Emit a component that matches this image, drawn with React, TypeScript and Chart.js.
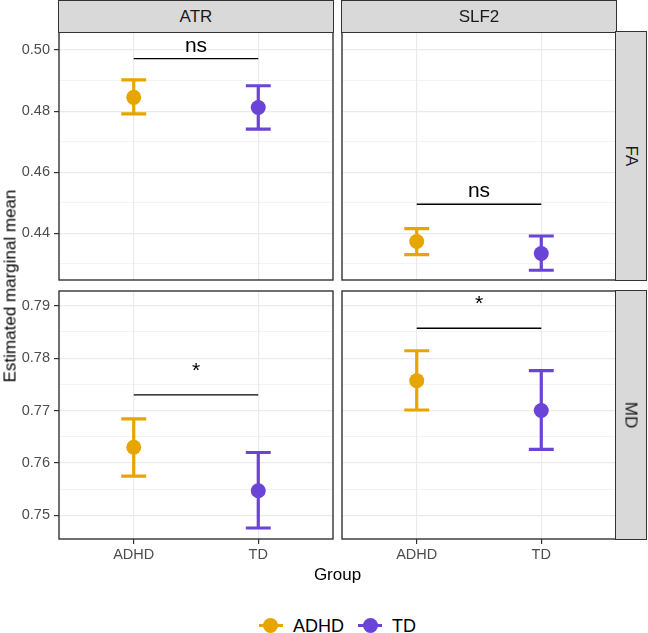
import React, { useEffect, useRef } from "react";
import { Chart, registerables } from "chart.js";

Chart.register(...registerables);

// Categories
const groups = ["ADHD", "TD"];
const tracts = ["ATR", "SLF2"];
const measures = ["FA", "MD"];
const groupColors = ["#E6A500", "#6A44D6"];

// Estimated marginal means with CI bounds, ordered [ADHD, TD]
const faAtrMean = [0.4845, 0.4812];
const faAtrLow = [0.4791, 0.4741];
const faAtrHigh = [0.4902, 0.4883];

const faSlf2Mean = [0.4373, 0.4334];
const faSlf2Low = [0.433, 0.4279];
const faSlf2High = [0.4415, 0.4391];

const mdAtrMean = [0.763, 0.7547];
const mdAtrLow = [0.7575, 0.7476];
const mdAtrHigh = [0.7684, 0.762];

const mdSlf2Mean = [0.7757, 0.77];
const mdSlf2Low = [0.7701, 0.7626];
const mdSlf2High = [0.7814, 0.7776];

// Significance brackets per tract [ATR, SLF2]
const faBracketY = [0.4972, 0.4495];
const faBracketLabel = ["ns", "ns"];
const mdBracketY = [0.773, 0.7857];
const mdBracketLabel = ["*", "*"];

// Y axis ranges and tick steps per measure row
const faRange = [0.4247, 0.5059];
const mdRange = [0.7455, 0.7928];
const faMajorStep = 0.02;
const mdMajorStep = 0.01;

type PanelData = {
  mean: number[];
  low: number[];
  high: number[];
  bracketY: number;
  bracketLabel: string;
};

const panels: PanelData[][] = [
  [
    { mean: faAtrMean, low: faAtrLow, high: faAtrHigh, bracketY: faBracketY[0], bracketLabel: faBracketLabel[0] },
    { mean: faSlf2Mean, low: faSlf2Low, high: faSlf2High, bracketY: faBracketY[1], bracketLabel: faBracketLabel[1] },
  ],
  [
    { mean: mdAtrMean, low: mdAtrLow, high: mdAtrHigh, bracketY: mdBracketY[0], bracketLabel: mdBracketLabel[0] },
    { mean: mdSlf2Mean, low: mdSlf2Low, high: mdSlf2High, bracketY: mdBracketY[1], bracketLabel: mdBracketLabel[1] },
  ],
];
const rowRanges = [faRange, mdRange];
const rowMajor = [faMajorStep, mdMajorStep];

// Layout
const PANEL_LEFT = [59, 342];
const PANEL_TOP = [32, 291];
const PANEL_W = 274;
const PANEL_H = 248;
const Y_AXIS_W = 59;
const X_AXIS_H = 30;
const PAD = 2;
const STRIP = 32;

const FONT = "'Liberation Sans', Arial, Helvetica, sans-serif";
const GRID = "#EBEBEB";
const DARK = "#333333";

function Panel({ row, col }: { row: number; col: number }) {
  const ref = useRef<HTMLCanvasElement | null>(null);
  const showY = col === 0;
  const showX = row === 1;
  const padL = showY ? 0 : PAD;
  const yW = showY ? Y_AXIS_W : 0;
  const xH = showX ? X_AXIS_H : 0;
  const left = PANEL_LEFT[col] - yW - padL;
  const top = PANEL_TOP[row] - PAD;
  const width = padL + yW + PANEL_W + PAD;
  const height = PAD + PANEL_H + xH + PAD;

  useEffect(() => {
    const canvas = ref.current;
    if (!canvas) return;
    const d = panels[row][col];
    const [yMin, yMax] = rowRanges[row];
    const major = rowMajor[row];
    const minor = major / 2;
    const isMajor = (v: number) => Math.round(v / minor) % 2 === 0;

    const errorBars = {
      id: "errorBars",
      beforeDatasetsDraw(chart: any) {
        const { ctx, scales } = chart;
        const xs = scales.x;
        const ys = scales.y;
        const half = xs.getPixelForValue(1.1) - xs.getPixelForValue(1);
        ctx.save();
        d.mean.forEach((_, i) => {
          const px = xs.getPixelForValue(i + 1);
          const lo = ys.getPixelForValue(d.low[i]);
          const hi = ys.getPixelForValue(d.high[i]);
          ctx.strokeStyle = groupColors[i];
          ctx.lineWidth = 3.2;
          ctx.lineCap = "butt";
          ctx.beginPath();
          ctx.moveTo(px, lo);
          ctx.lineTo(px, hi);
          ctx.moveTo(px - half, lo);
          ctx.lineTo(px + half, lo);
          ctx.moveTo(px - half, hi);
          ctx.lineTo(px + half, hi);
          ctx.stroke();
        });
        ctx.restore();
      },
      afterDatasetsDraw(chart: any) {
        const { ctx, scales, chartArea } = chart;
        const xs = scales.x;
        const ys = scales.y;
        const x1 = xs.getPixelForValue(1);
        const x2 = xs.getPixelForValue(2);
        const by = ys.getPixelForValue(d.bracketY);
        ctx.save();
        ctx.strokeStyle = "#000";
        ctx.lineWidth = 1.3;
        ctx.beginPath();
        ctx.moveTo(x1, by);
        ctx.lineTo(x2, by);
        ctx.stroke();
        ctx.fillStyle = "#000";
        ctx.font = `21px ${FONT}`;
        ctx.textAlign = "center";
        ctx.textBaseline = "alphabetic";
        const lift = d.bracketLabel === "*" ? 18 : 7;
        ctx.fillText(d.bracketLabel, (x1 + x2) / 2, by - lift);
        // panel border
        ctx.strokeStyle = DARK;
        ctx.lineWidth = 1.4;
        ctx.strokeRect(chartArea.left, chartArea.top, chartArea.right - chartArea.left, chartArea.bottom - chartArea.top);
        ctx.restore();
      },
    };

    const chart = new Chart(canvas, {
      type: "scatter",
      data: {
        datasets: groups.map((g, i) => ({
          label: g,
          data: [{ x: i + 1, y: d.mean[i] }],
          backgroundColor: groupColors[i],
          borderColor: groupColors[i],
          borderWidth: 0,
          pointRadius: 7.5,
          pointHoverRadius: 7.5,
        })),
      },
      options: {
        responsive: false,
        maintainAspectRatio: false,
        animation: false,
        events: [],
        layout: { autoPadding: false, padding: { left: padL, top: PAD, right: PAD, bottom: PAD } },
        plugins: { legend: { display: false }, tooltip: { enabled: false } },
        scales: {
          x: {
            type: "linear",
            min: 0.4,
            max: 2.6,
            border: { display: false },
            grid: {
              color: GRID,
              lineWidth: 1.2,
              drawTicks: showX,
              tickLength: 5,
              tickColor: DARK,
              tickWidth: 1.2,
            },
            ticks: {
              display: showX,
              stepSize: 1,
              includeBounds: false,
              autoSkip: false,
              maxRotation: 0,
              padding: 2,
              color: "#4D4D4D",
              font: { family: FONT, size: 14.5 },
              callback: (v: any) => groups[Math.round(Number(v)) - 1] ?? "",
            },
            afterFit: (s: any) => {
              s.height = xH;
              s.paddingLeft = 0;
              s.paddingRight = 0;
            },
          },
          y: {
            type: "linear",
            min: yMin,
            max: yMax,
            border: { display: false },
            grid: {
              color: GRID,
              lineWidth: (c: any) => (c.tick && isMajor(c.tick.value) ? 1.2 : 0.6),
              drawTicks: showY,
              tickLength: 5,
              tickColor: (c: any) => (c.tick && isMajor(c.tick.value) ? DARK : "rgba(0,0,0,0)"),
              tickWidth: 1.2,
            },
            ticks: {
              display: showY,
              stepSize: minor,
              includeBounds: false,
              autoSkip: false,
              padding: 4,
              color: "#4D4D4D",
              font: { family: FONT, size: 14.5 },
              callback: (v: any) => (isMajor(Number(v)) ? Number(v).toFixed(2) : ""),
            },
            afterFit: (s: any) => {
              s.width = yW;
              s.paddingTop = 0;
              s.paddingBottom = 0;
            },
          },
        },
      } as any,
      plugins: [errorBars],
    });
    return () => chart.destroy();
  }, [row, col]);

  return (
    <canvas
      ref={ref}
      width={width}
      height={height}
      style={{ position: "absolute", left, top, width, height }}
    />
  );
}

const centered: React.CSSProperties = {
  position: "absolute",
  transform: "translate(-50%, -50%)",
  whiteSpace: "nowrap",
  lineHeight: 1,
};

export default function App() {
  return (
    <div
      style={{
        position: "absolute",
        left: 0,
        top: 0,
        width: 648,
        height: 633,
        overflow: "hidden",
        background: "#fff",
        fontFamily: FONT,
      }}
    >
      {[0, 1].map((r) => [0, 1].map((c) => <Panel key={`${r}-${c}`} row={r} col={c} />))}

      {tracts.map((t, c) => (
        <div
          key={t}
          style={{
            position: "absolute",
            left: PANEL_LEFT[c] - 0.7,
            top: 0,
            width: PANEL_W + 1.4,
            height: STRIP + 0.7,
            boxSizing: "border-box",
            background: "#D9D9D9",
            border: `1.4px solid ${DARK}`,
          }}
        >
          <div style={{ ...centered, left: "50%", top: "50%", fontSize: 17, color: "#1A1A1A" }}>{t}</div>
        </div>
      ))}

      {measures.map((m, r) => (
        <div
          key={m}
          style={{
            position: "absolute",
            left: PANEL_LEFT[1] + PANEL_W - 0.7,
            top: PANEL_TOP[r] - 0.7,
            width: 32,
            height: PANEL_H + 1.4,
            boxSizing: "border-box",
            background: "#D9D9D9",
            border: `1.4px solid ${DARK}`,
          }}
        >
          <div
            style={{
              ...centered,
              left: "50%",
              top: "50%",
              fontSize: 17,
              color: "#1A1A1A",
              transform: "translate(-50%, -50%) rotate(90deg)",
            }}
          >
            {m}
          </div>
        </div>
      ))}

      <div
        style={{
          ...centered,
          left: 10,
          top: (PANEL_TOP[0] + PANEL_TOP[1] + PANEL_H) / 2,
          fontSize: 17,
          color: "#000",
          transform: "translate(-50%, -50%) rotate(-90deg)",
        }}
      >
        Estimated marginal mean
      </div>

      <div
        style={{
          ...centered,
          left: (PANEL_LEFT[0] + PANEL_LEFT[1] + PANEL_W) / 2,
          top: 574,
          fontSize: 17,
          color: "#000",
        }}
      >
        Group
      </div>

      <div
        style={{
          position: "absolute",
          left: PANEL_LEFT[0],
          width: PANEL_LEFT[1] + PANEL_W - PANEL_LEFT[0],
          top: 612,
          height: 27,
          display: "flex",
          justifyContent: "center",
          alignItems: "center",
        }}
      >
        {groups.map((g, i) => (
          <div key={g} style={{ display: "flex", alignItems: "center", marginLeft: i === 0 ? 0 : 14 }}>
            <div style={{ position: "relative", width: 24, height: 16 }}>
              <div
                style={{
                  position: "absolute",
                  left: 0,
                  top: 6.5,
                  width: 24,
                  height: 3,
                  background: groupColors[i],
                }}
              />
              <div
                style={{
                  position: "absolute",
                  left: 4.5,
                  top: 0.5,
                  width: 15,
                  height: 15,
                  borderRadius: "50%",
                  background: groupColors[i],
                }}
              />
            </div>
            <span style={{ marginLeft: 10, fontSize: 18, color: "#000", lineHeight: 1 }}>{g}</span>
          </div>
        ))}
      </div>
    </div>
  );
}
